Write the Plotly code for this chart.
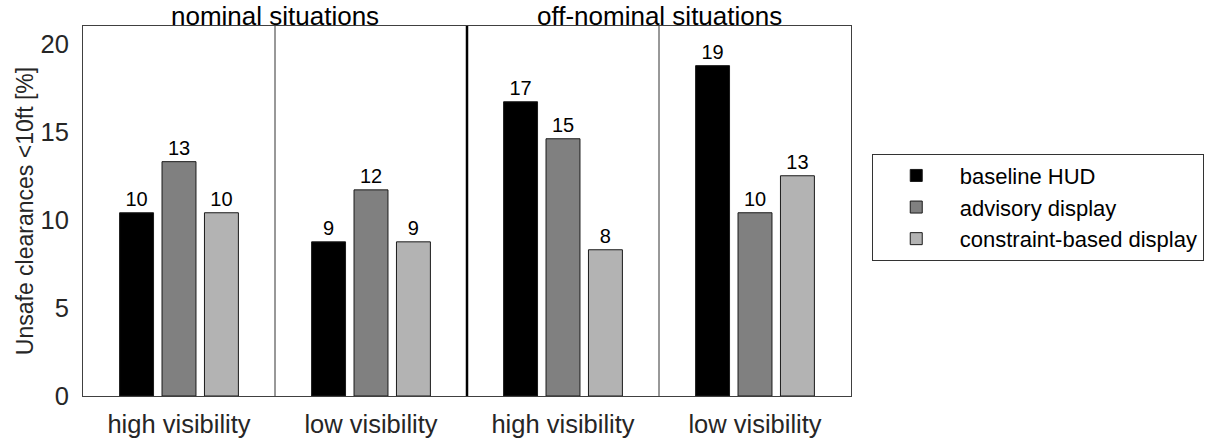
import numpy as np
import plotly.graph_objects as go

groups = ["high visibility", "low visibility", "high visibility", "low visibility"]
sections = ["nominal situations", "off-nominal situations"]
series_names = ["baseline HUD", "advisory display", "constraint-based display"]
baseline_hud = [10.4, 8.75, 16.7, 18.75]
advisory_display = [13.3, 11.7, 14.6, 10.4]
constraint_display = [10.4, 8.75, 8.3, 12.5]
colors = ["#000000", "#808080", "#b3b3b3"]
yticks = [0, 5, 10, 15, 20]

FONT = "Liberation Sans, Arial, sans-serif"
xpos = np.arange(1, len(groups) + 1)

fig = go.Figure()
for name, vals, col in zip(series_names, [baseline_hud, advisory_display, constraint_display], colors):
    labels = [str(int(np.floor(v + 0.5))) for v in vals]
    fig.add_trace(go.Bar(
        x=xpos, y=vals, name=name,
        marker=dict(color=col, line=dict(color="#1a1a1a", width=1)),
        text=labels, textposition="outside", constraintext="none",
        textfont=dict(family=FONT, size=20, color="#000000"),
        cliponaxis=False,
    ))

# dividers between groups
for xd, w, c in [(1.5, 1, "#333333"), (2.5, 2.5, "#000000"), (3.5, 1, "#333333")]:
    fig.add_shape(type="line", xref="x", yref="paper", x0=xd, x1=xd, y0=0, y1=1,
                  line=dict(color=c, width=w), layer="above")

for i, s in enumerate(sections):
    fig.add_annotation(x=1.5 + 2 * i, y=1, xref="x", yref="paper", text=s,
                       showarrow=False, yanchor="bottom", yshift=-6, borderpad=0,
                       font=dict(family=FONT, size=26, color="#000000"))

fig.update_layout(
    width=1221, height=440,
    margin=dict(l=83, r=370, t=26, b=44, autoexpand=False),
    paper_bgcolor="white", plot_bgcolor="white",
    barmode="group", bargap=0.337, bargroupgap=0.2,
    font=dict(family=FONT, size=24, color="#262626"),
    legend=dict(x=1.027, y=0.655, xanchor="left", yanchor="top",
                bordercolor="#333333", borderwidth=1, bgcolor="white",
                font=dict(family=FONT, size=22, color="#000000"),
                tracegroupgap=0, itemwidth=77),
    showlegend=True,
)
fig.update_xaxes(range=[0.5, 4.5], tickvals=xpos, ticktext=groups, showgrid=False,
                 showline=True, mirror=True, linecolor="#404040", linewidth=1,
                 ticks="", zeroline=False, ticklabelstandoff=5, automargin=False,
                 tickfont=dict(family=FONT, size=25.5, color="#262626"))
fig.update_yaxes(range=[0, 21], tickvals=yticks, showgrid=False,
                 showline=True, mirror=True, linecolor="#404040", linewidth=1,
                 ticks="", zeroline=False, ticklabelstandoff=8, automargin=False,
                 tickfont=dict(family=FONT, size=25.5, color="#262626"),
                 title=dict(text="Unsafe clearances <10ft [%]", standoff=0,
                            font=dict(family=FONT, size=23, color="#262626")))

# remove the default 8px page margin so the figure fills the window exactly
fig.write_html("out.html", config={"displayModeBar": False},
               post_script="document.body.style.margin='0';")
